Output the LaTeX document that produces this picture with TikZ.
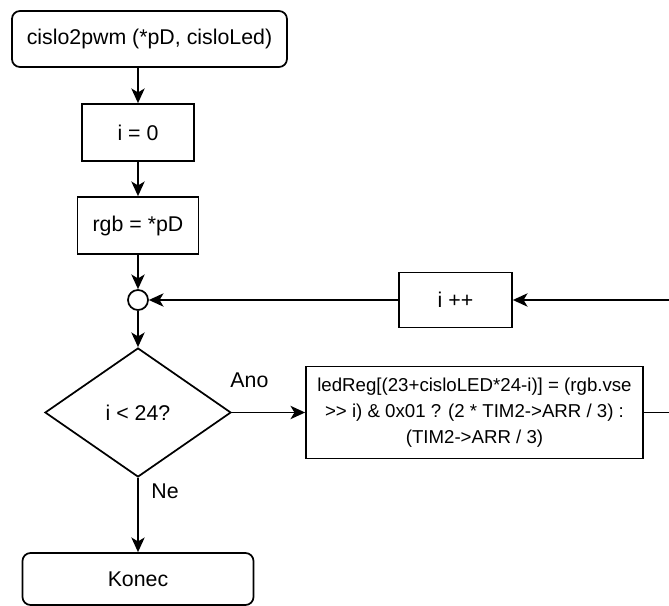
\documentclass[tikz,border=0pt]{standalone}
\usepackage{fontspec}
\setmainfont{Liberation Sans}
\usetikzlibrary{arrows.meta, positioning, shapes.geometric}

\begin{document}
\begin{tikzpicture}[
  >={Stealth[length=11pt, width=10pt, inset=3pt]},
  line width=1.3pt,
  every node/.style={font=\fontsize{16}{19}\selectfont},
  terminal/.style={draw, fill=white, rounded corners=6pt, minimum height=42pt,
                   align=center},
  process/.style={draw, fill=white, minimum height=42.75pt, align=center},
  decision/.style={draw, fill=white, diamond, aspect=1.44, minimum width=139.5pt,
                   minimum height=96.75pt, inner sep=0pt},
  junction/.style={draw, fill=white, circle, minimum size=15pt, inner sep=0pt},
  flow/.style={->},
  lbl/.style={inner sep=0pt}
]
  \useasboundingbox (0,0) rectangle (501.75pt,-454.5pt);

  \node[terminal, minimum width=206.25pt] (start) at (112.1pt,-29.25pt)
    {cislo2pwm (*pD, cisloLed)};
  \node[process, minimum width=84pt, below=26.45pt of start, xshift=-8.6pt] (init) {i = 0};
  \node[process, minimum width=90.75pt, below=25.7pt of init] (rgb) {rgb = *pD};
  \node[junction, below=25.7pt of rgb] (join) {};
  \node[decision, below=27.2pt of join] (test) {i < 24?};
  \node[terminal, minimum width=173.25pt, minimum height=39pt, below=55.7pt of test] (konec) {Konec};

  % loop body
  \node[process, minimum width=252.75pt, minimum height=69pt,
        font=\fontsize{14}{19.5}\selectfont, right=54.95pt of test] (ledreg)
    {ledReg[(23+cisloLED*24-i)] = (rgb.vse\\>{}> i) \& 0x01 ? (2 * TIM2->ARR / 3) :\\(TIM2->ARR / 3)};
  \node[process, minimum width=84.75pt, minimum height=41.25pt, right=186.95pt of join] (inc) {i ++};
  \coordinate[right=30pt of ledreg.east] (back);

  \draw[flow] (init.north |- start.south) -- (init.north);
  \draw[flow] (init) -- (rgb);
  \draw[flow] (rgb) -- (join);
  \draw[flow] (join) -- (test);
  \draw[flow] (test) -- node[lbl, pos=0.24, yshift=24pt]{Ano} (ledreg);
  \draw[flow] (test) -- node[lbl, pos=0.18, xshift=20.25pt]{Ne} (konec);
  \draw[flow] (ledreg.east) -- (back) |- (inc);
  \draw[flow] (inc) -- (join);
\end{tikzpicture}
\end{document}
